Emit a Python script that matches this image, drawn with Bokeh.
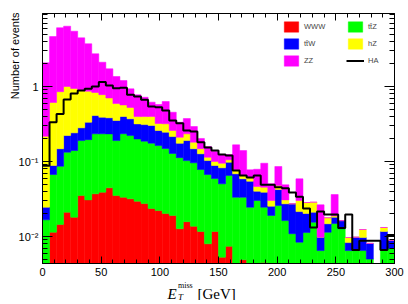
import numpy as np
from bokeh.plotting import figure
from bokeh.models import (Range1d, FixedTicker, SingleIntervalTicker, LogAxis, LinearAxis,
                          Label, Legend, LegendItem, CustomJSTickFormatter)
from bokeh.embed import file_html
from bokeh.resources import INLINE

# ---------------- data ----------------
x_min, x_max, n_bins = 0, 300, 50
y_min, y_max = 0.00437, 9.55

www = [0, 0.0114, 0.0145, 0.0211, 0.0181, 0.0352, 0.0308, 0.0371, 0.039, 0.0446,
       0.0352, 0.0334, 0.0318, 0.0296, 0.0275, 0.0236, 0.0222, 0.0203, 0.0191, 0.0127,
       0.0158, 0.0137, 0.0117, 0.008, 0.0117, 0.0053, 0.0074, 0, 0.0049, 0,
       0, 0.0045, 0, 0, 0, 0, 0, 0, 0, 0,
       0, 0, 0, 0, 0, 0, 0, 0, 0, 0]
ttz = [0.0167, 0.0557, 0.072, 0.112, 0.122, 0.155, 0.165, 0.197, 0.195, 0.189,
       0.155, 0.201, 0.190, 0.170, 0.159, 0.152, 0.141, 0.129, 0.109, 0.100,
       0.087, 0.0824, 0.0665, 0.0591, 0.0476, 0.0451, 0.0576, 0.0334, 0.0285, 0.0246,
       0.0302, 0.0201, 0.0191, 0.0259, 0.0163, 0.0109, 0.0084, 0.0113, 0.0155, 0.0065,
       0.0114, 0.0149, 0.0127, 0.0065, 0.0065, 0.0065, 0.0050, 0, 0.0067, 0.0069]
ttw = [0.0079, 0.0214, 0.0615, 0.089, 0.101, 0.091, 0.138, 0.176, 0.156, 0.149,
       0.162, 0.164, 0.149, 0.118, 0.124, 0.127, 0.096, 0.097, 0.087, 0.062,
       0.0875, 0.0519, 0.0485, 0.0359, 0.0292, 0.032, 0.0329, 0.0352, 0.0254, 0.030,
       0.010, 0.0144, 0.0063, 0.0164, 0.011, 0.0164, 0.0131, 0.009, 0.0056, 0.0033,
       0.0034, 0.0032, 0.0036, 0.0018, 0.0033, 0.0032, 0.0031, 0, 0.005, 0.002]
hz = [0.192, 0.524, 0.705, 0.778, 0.699, 0.617, 0.531, 0.422, 0.388, 0.32,
      0.241, 0.169, 0.154, 0.08, 0.087, 0.096, 0.062, 0.072, 0.044, 0.036,
      0.0435, 0.033, 0.0213, 0.011, 0.0115, 0.0125, 0.0075, 0.0089, 0.0062, 0.0061,
      0.0062, 0.0064, 0.0048, 0.0056, 0.0035, 0, 0.0087, 0.0081, 0.0076, 0,
      0.003, 0.0007, 0, 0.0014, 0, 0.0027, 0, 0, 0.0015, 0]
zz = [1.85, 4.03, 5.22, 5.37, 4.52, 3.56, 2.85, 1.90, 1.33, 1.02,
      0.767, 0.633, 0.406, 0.377, 0.322, 0.22, 0.254, 0.313, 0.195, 0.123,
      0.14, 0.112, 0.055, 0.044, 0.036, 0.029, 0.0186, 0.0895, 0.075, 0.0168,
      0.0325, 0.0495, 0.0202, 0.0379, 0.0181, 0, 0.0286, 0, 0, 0.0167,
      0, 0.0175, 0, 0, 0, 0, 0, 0, 0, 0]
ha = [0.088, 0.334, 0.43, 0.67, 0.81, 0.885, 0.93, 1.0, 1.15, 1.03,
      0.95, 0.96, 0.775, 0.735, 0.665, 0.54, 0.53, 0.479, 0.352, 0.324,
      0.259, 0.251, 0.181, 0.154, 0.14, 0.124, 0.12, 0.076, 0.065, 0.061,
      0.065, 0.049, 0.049, 0.0453, 0.044, 0.0387, 0.0338, 0.0237, 0.0132, 0.0216,
      0.0197, 0.0197, 0.013, 0.0196, 0.0066, 0.0088, 0.0088, 0.0088, 0.0066, 0.0105]

series_names = ["WWW", "tt\u0304Z", "tt\u0304W", "hZ", "ZZ"]
series_values = [www, ttz, ttw, hz, zz]
series_colors = ["#ff0000", "#00ff00", "#0000ff", "#ffff00", "#ff00ff"]
ha_name = "HA"
y_major = [0.01, 0.1, 1]
x_title_parts = ["E", "T", "miss", "[GeV]"]
y_title = "Number of events"

# ---------------- layout (canvas pixels) ----------------
W, H = 404, 300
fx0, fx1, fy0, fy1 = 42.0, 394.0, 12.5, 263.0   # drawn box inside the canvas

gev_per_px = (x_max - x_min) / (fx1 - fx0)
x_lo = x_min - fx0 * gev_per_px
x_hi = x_max + (W - fx1) * gev_per_px
dec_per_px = np.log10(y_max / y_min) / (fy1 - fy0)
y_hi = y_max * 10 ** (fy0 * dec_per_px)
y_lo = y_min / 10 ** ((H - fy1) * dec_per_px)

p = figure(width=W, height=H, x_range=Range1d(x_lo, x_hi),
           y_range=Range1d(y_lo, y_hi), y_axis_type="log",
           output_backend="svg", toolbar_location=None,
           min_border=0, min_border_left=0, min_border_right=0,
           min_border_top=0, min_border_bottom=0)
p.grid.visible = False
p.outline_line_color = None
p.background_fill_color = "white"
p.border_fill_color = "white"

edges = np.linspace(x_min, x_max, n_bins + 1)
cum = np.zeros(n_bins)
renderers = []
for vals, col in zip(series_values, series_colors):
    bottom = np.maximum(cum, y_min)
    cum = cum + np.asarray(vals, dtype=float)
    top = np.maximum(cum, y_min)
    r = p.quad(left=edges[:-1], right=edges[1:], bottom=bottom, top=top,
               fill_color=col, line_color=col, line_width=0.5)
    renderers.append(r)

ha_y = list(ha) + [ha[-1]]
r_ha = p.step(x=edges, y=ha_y, mode="after", line_color="black", line_width=2)

# ---------------- axes (box edges) ----------------
minor_y = [k * 10.0 ** e for e in range(-3, 1) for k in range(2, 10)]
minor_y = [v for v in minor_y if y_min <= v <= y_max]
yticker = FixedTicker(ticks=y_major, minor_ticks=minor_y)
xticker = SingleIntervalTicker(interval=50, num_minor_ticks=5)

ylab_fmt = CustomJSTickFormatter(code="""
const e = Math.round(Math.log10(tick));
if (e == 0) return "1";
const sup = {"-": "\u207b", "0": "\u2070", "1": "\u00b9", "2": "\u00b2", "3": "\u00b3"};
return "10" + String(e).split("").map(c => sup[c]).join("");
""")
blank_fmt = CustomJSTickFormatter(code="return '';")

def style(ax, tick_major, tick_minor):
    ax.major_tick_in = tick_major
    ax.major_tick_out = 0
    ax.minor_tick_in = tick_minor
    ax.minor_tick_out = 0
    ax.axis_line_color = "black"
    ax.axis_line_width = 1
    ax.major_tick_line_color = "black"
    ax.minor_tick_line_color = "black"
    ax.major_label_text_font = "Liberation Sans"
    ax.major_label_text_font_size = "11px"
    ax.major_label_text_color = "black"

yax = p.yaxis[0]
yax.ticker = yticker
yax.formatter = ylab_fmt
yax.fixed_location = x_min
yax.bounds = (y_min, y_max)
style(yax, 10, 5)
yax.major_label_standoff = 4

xax = p.xaxis[0]
xax.ticker = xticker
xax.fixed_location = y_min
xax.bounds = (x_min, x_max)
style(xax, 7, 4)
xax.major_label_standoff = 4

ax_r = LogAxis(ticker=yticker, formatter=blank_fmt, major_label_standoff=0,
               fixed_location=x_max, bounds=(y_min, y_max))
style(ax_r, 10, 5)
p.add_layout(ax_r, "right")
ax_t = LinearAxis(ticker=xticker, formatter=blank_fmt, major_label_standoff=0,
                  fixed_location=y_max, bounds=(x_min, x_max))
style(ax_t, 7, 4)
p.add_layout(ax_t, "above")

# ---------------- axis titles (screen px from canvas bottom-left) ----------------
p.add_layout(Label(x=14.5, y=H - 12, x_units="screen", y_units="screen",
                   text=y_title, angle=90, angle_units="deg",
                   text_align="right", text_baseline="middle",
                   text_font="Liberation Sans", text_font_size="11px", text_color="black"))
p.add_layout(Label(x=167, y=H - 293, x_units="screen", y_units="screen", text=x_title_parts[0],
                   text_font="Liberation Serif", text_font_style="italic",
                   text_font_size="15px", text_baseline="alphabetic", text_color="black"))
p.add_layout(Label(x=177.5, y=H - 296, x_units="screen", y_units="screen", text=x_title_parts[1],
                   text_font="Liberation Serif", text_font_style="italic",
                   text_font_size="9px", text_baseline="alphabetic", text_color="black"))
p.add_layout(Label(x=177.5, y=H - 285, x_units="screen", y_units="screen", text=x_title_parts[2],
                   text_font="Liberation Serif",
                   text_font_size="8px", text_baseline="alphabetic", text_color="black"))
p.add_layout(Label(x=197, y=H - 293, x_units="screen", y_units="screen", text=x_title_parts[3],
                   text_font="Liberation Serif",
                   text_font_size="15px", text_baseline="alphabetic", text_color="black"))

# ---------------- legend ----------------
items = [LegendItem(label=n, renderers=[r]) for n, r in zip(series_names, renderers)]
items.append(LegendItem(label=ha_name, renderers=[r_ha]))
legend = Legend(items=items, orientation="horizontal", ncols=2,
                location=(282, 233), glyph_width=18, glyph_height=13, label_standoff=4,
                label_width=38, label_height=13, spacing=4, padding=0, margin=0,
                border_line_alpha=0, background_fill_alpha=0,
                label_text_font="Liberation Sans", label_text_font_size="7.5px")
p.add_layout(legend)

open("out.html", "w").write(file_html(p, INLINE))
